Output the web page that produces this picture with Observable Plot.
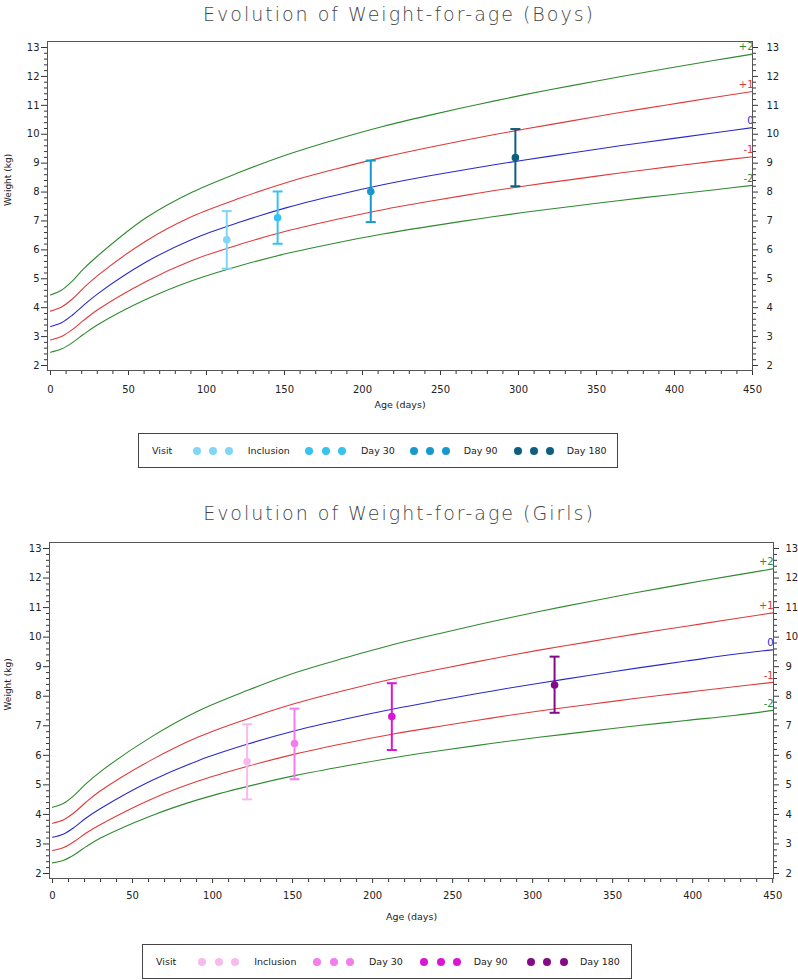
<!DOCTYPE html>
<html><head><meta charset="utf-8">
<script src="https://cdn.jsdelivr.net/npm/d3@7"></script>
<script src="https://cdn.jsdelivr.net/npm/@observablehq/plot@0.6"></script>
<style>
body{margin:0;background:#fff;font-family:"DejaVu Sans",sans-serif;}
#page{position:relative;width:798px;height:980px;overflow:hidden;background:#fff}
.title{position:absolute;left:0;width:798px;text-align:center;font-size:19px;line-height:20px;font-weight:200;color:#444;letter-spacing:2px;white-space:nowrap}
.chart{position:absolute;left:0}
.legend{position:absolute;border:1px solid #444;box-sizing:border-box;background:#fff}
.legend span{position:absolute;font-size:9.5px;color:#222;line-height:1;top:50%;transform:translateY(-50%);white-space:nowrap}
.legend i{position:absolute;width:8px;height:8px;border-radius:50%;top:50%;transform:translate(-50%,-50%)}
</style></head>
<body><div id="page"></div>
<script>
// ---------- data ----------
const visits = ["Inclusion", "Day 30", "Day 90", "Day 180"];
const zLabels = ["+2", "+1", "0", "-1", "-2"];
const curveAges = [0, 7, 14, 21, 30, 61, 91, 122, 152, 183, 213, 244, 274, 304, 335, 365, 396, 426, 450];

// Boys weight-for-age reference curves (kg)
const boysP2  = [4.44, 4.6, 4.92, 5.33, 5.78, 7.1, 8.0, 8.7, 9.3, 9.82, 10.27, 10.67, 11.03, 11.37, 11.69, 11.99, 12.28, 12.56, 12.77];
const boysP1  = [3.88, 4.02, 4.3, 4.67, 5.1, 6.3, 7.16, 7.8, 8.34, 8.8, 9.2, 9.56, 9.88, 10.18, 10.47, 10.75, 11.02, 11.28, 11.48];
const boysMed = [3.35, 3.48, 3.74, 4.07, 4.47, 5.57, 6.37, 6.97, 7.47, 7.89, 8.25, 8.57, 8.85, 9.11, 9.36, 9.6, 9.83, 10.05, 10.23];
const boysM1  = [2.88, 3.0, 3.24, 3.55, 3.92, 4.9, 5.64, 6.2, 6.66, 7.05, 7.39, 7.69, 7.96, 8.21, 8.44, 8.66, 8.87, 9.07, 9.22];
const boysM2  = [2.46, 2.57, 2.79, 3.07, 3.4, 4.28, 4.94, 5.46, 5.88, 6.24, 6.55, 6.82, 7.07, 7.3, 7.51, 7.71, 7.9, 8.08, 8.23];

// Girls weight-for-age reference curves (kg)
const girlsP2  = [4.24, 4.38, 4.67, 5.04, 5.45, 6.6, 7.5, 8.2, 8.8, 9.3, 9.75, 10.15, 10.52, 10.87, 11.2, 11.51, 11.81, 12.09, 12.31];
const girlsP1  = [3.7, 3.82, 4.08, 4.42, 4.8, 5.82, 6.62, 7.24, 7.76, 8.2, 8.59, 8.94, 9.26, 9.56, 9.84, 10.11, 10.37, 10.62, 10.82];
const girlsMed = [3.23, 3.34, 3.58, 3.88, 4.2, 5.12, 5.82, 6.38, 6.84, 7.23, 7.57, 7.88, 8.17, 8.44, 8.7, 8.95, 9.19, 9.42, 9.57];
const girlsM1  = [2.78, 2.88, 3.1, 3.37, 3.66, 4.5, 5.13, 5.63, 6.05, 6.41, 6.72, 7.0, 7.26, 7.5, 7.72, 7.93, 8.13, 8.32, 8.47];
const girlsM2  = [2.36, 2.45, 2.65, 2.91, 3.2, 3.94, 4.5, 4.95, 5.32, 5.64, 5.92, 6.17, 6.4, 6.61, 6.81, 7.0, 7.18, 7.35, 7.52];

// Visit summaries (mean and interval)
const boysAge  = [113, 145.6, 205.3, 298];
const boysMean = [6.35, 7.11, 8.02, 9.19];
const boysLow  = [5.35, 6.21, 6.96, 8.2];
const boysHigh = [7.34, 8.02, 9.09, 10.18];

const girlsAge  = [121.6, 151.2, 212, 313.7];
const girlsMean = [5.79, 6.40, 7.31, 8.38];
const girlsLow  = [4.51, 5.19, 6.18, 7.44];
const girlsHigh = [7.05, 7.58, 8.44, 9.34];

const xMajorTicks = [0, 50, 100, 150, 200, 250, 300, 350, 400, 450];
const yMajorTicks = [2, 3, 4, 5, 6, 7, 8, 9, 10, 11, 12, 13];

const boysColors  = ["#80d6f6", "#36c3ef", "#1599cc", "#0d5f7f"];
const girlsColors = ["#f8b9ef", "#f47cec", "#d817d6", "#850a85"];
const curveColors = ["#2f8a2f", "#e03a3a", "#2a2acc", "#e03a3a", "#2f8a2f"];

// ---------- drawing ----------
const xMinorTicks = d3.range(0, 451, 10).filter(v => v % 50 !== 0);
const yMinorTicks = d3.range(2, 13.01, 0.2).map(v => +v.toFixed(1)).filter(v => Math.abs(v - Math.round(v)) > 0.01);
const blank = () => "";
const capSymbol = {draw(ctx) { ctx.moveTo(-5, 0); ctx.lineTo(5, 0); }};

function makeChart(cfg) {
  const visitRows = visits.map((v, i) => ({visit: v, age: cfg.age[i], mean: cfg.mean[i], low: cfg.low[i], high: cfg.high[i]}));
  const curveMarks = [];
  cfg.curves.forEach((vals, i) => {
    const rows = vals.map((w, j) => ({age: curveAges[j], w}));
    curveMarks.push(Plot.line(rows, {x: "age", y: "w", stroke: curveColors[i], strokeWidth: 1.1, curve: "catmull-rom"}));
    const last = rows[rows.length - 1];
    curveMarks.push(Plot.text([last], {x: "age", y: "w", text: () => zLabels[i], fill: curveColors[i], textAnchor: "end", dx: 1, dy: -7, fontSize: 10}));
  });
  return Plot.plot({
    width: 798, height: 400,
    marginTop: cfg.mt, marginBottom: cfg.mb, marginLeft: cfg.ml, marginRight: cfg.mr,
    x: {domain: cfg.xDomain},
    y: {domain: cfg.yDomain},
    color: {domain: visits, range: cfg.colors},
    style: {fontFamily: "DejaVu Sans", fontSize: "10px", color: "#333", background: "white", overflow: "visible"},
    marks: [
      Plot.axisX({ticks: xMajorTicks, tickSize: 5, tickPadding: cfg.xPad, label: null, fill: "#222"}),
      Plot.axisX({ticks: xMinorTicks, tickSize: 4, tickFormat: blank, label: null}),
      Plot.axisY({ticks: yMajorTicks, anchor: "left", tickSize: 6, tickPadding: 2, label: null, fill: "#222"}),
      Plot.axisY({ticks: yMinorTicks, anchor: "left", tickSize: 3, tickFormat: blank, label: null}),
      Plot.axisY({ticks: yMajorTicks, anchor: "right", tickSize: 5, tickPadding: cfg.rPad, label: null, fill: "#222"}),
      Plot.axisY({ticks: yMinorTicks, anchor: "right", tickSize: 3, tickFormat: blank, label: null}),
      ...curveMarks,
      Plot.ruleX(visitRows, {x: "age", y1: "low", y2: "high", stroke: "visit", strokeWidth: 2}),
      Plot.dot(visitRows, {x: "age", y: "low", stroke: "visit", symbol: capSymbol, strokeWidth: 2}),
      Plot.dot(visitRows, {x: "age", y: "high", stroke: "visit", symbol: capSymbol, strokeWidth: 2}),
      Plot.dot(visitRows, {x: "age", y: "mean", fill: "visit", r: 3.8}),
      Plot.frame({stroke: "#555"}),
      Plot.text(["Age (days)"], {frameAnchor: "bottom", dy: cfg.xLabelDy, text: d => d, fontSize: 9.5, fill: "#222"}),
      Plot.text(["Weight (kg)"], {frameAnchor: "left", dx: cfg.yLabelDx, rotate: -90, text: d => d, fontSize: 9, fill: "#222"})
    ]
  });
}

function makeLegend(colors, box, pos) {
  const div = document.createElement("div");
  div.className = "legend";
  Object.assign(div.style, {left: box[0] + "px", top: box[1] + "px", width: box[2] + "px", height: box[3] + "px"});
  const add = (txt, x) => { const s = document.createElement("span"); s.textContent = txt; s.style.left = x + "px"; div.appendChild(s); };
  add("Visit", pos.visit);
  visits.forEach((v, i) => {
    pos.dots[i].forEach(x => {
      const d = document.createElement("i");
      d.style.left = x + "px"; d.style.background = colors[i];
      div.appendChild(d);
    });
    add(v, pos.labels[i]);
  });
  return div;
}

const page = document.getElementById("page");
function addTitle(text, top) {
  const t = document.createElement("div");
  t.className = "title"; t.textContent = text; t.style.top = top + "px";
  page.appendChild(t);
}

addTitle("Evolution of Weight-for-age (Boys)", 4);
const boysChart = makeChart({
  curves: [boysP2, boysP1, boysMed, boysM1, boysM2],
  age: boysAge, mean: boysMean, low: boysLow, high: boysHigh,
  colors: boysColors,
  mt: 13, mb: 58, ml: 47, mr: 46,
  xDomain: [-1.92, 450], yDomain: [1.827, 13.208],
  xPad: 10, rPad: 9, xLabelDy: 37, yLabelDx: -39
});
boysChart.classList.add("chart"); boysChart.style.top = "28px";
page.appendChild(boysChart);
page.appendChild(makeLegend(boysColors, [138, 433, 480, 35], {
  visit: 13,
  dots: [[57.7, 74.3, 90.3], [170, 186.7, 203], [274.7, 291, 307], [378.7, 395, 411]],
  labels: [108.7, 222, 324.7, 427.7]
}));

addTitle("Evolution of Weight-for-age (Girls)", 503);
const girlsChart = makeChart({
  curves: [girlsP2, girlsP1, girlsMed, girlsM1, girlsM2],
  age: girlsAge, mean: girlsMean, low: girlsLow, high: girlsHigh,
  colors: girlsColors,
  mt: 14, mb: 50, ml: 49, mr: 25,
  xDomain: [-1.9, 450.5], yDomain: [1.831, 13.203],
  xPad: 8, rPad: 7, xLabelDy: 41, yLabelDx: -41
});
girlsChart.classList.add("chart"); girlsChart.style.top = "528px";
page.appendChild(girlsChart);
page.appendChild(makeLegend(girlsColors, [142, 944, 490, 35], {
  visit: 13,
  dots: [[59, 75.7, 92.3], [174, 191, 207], [281.3, 298, 314], [388, 404, 420.7]],
  labels: [111.3, 226, 330.7, 437]
}));
</script>
</body></html>
